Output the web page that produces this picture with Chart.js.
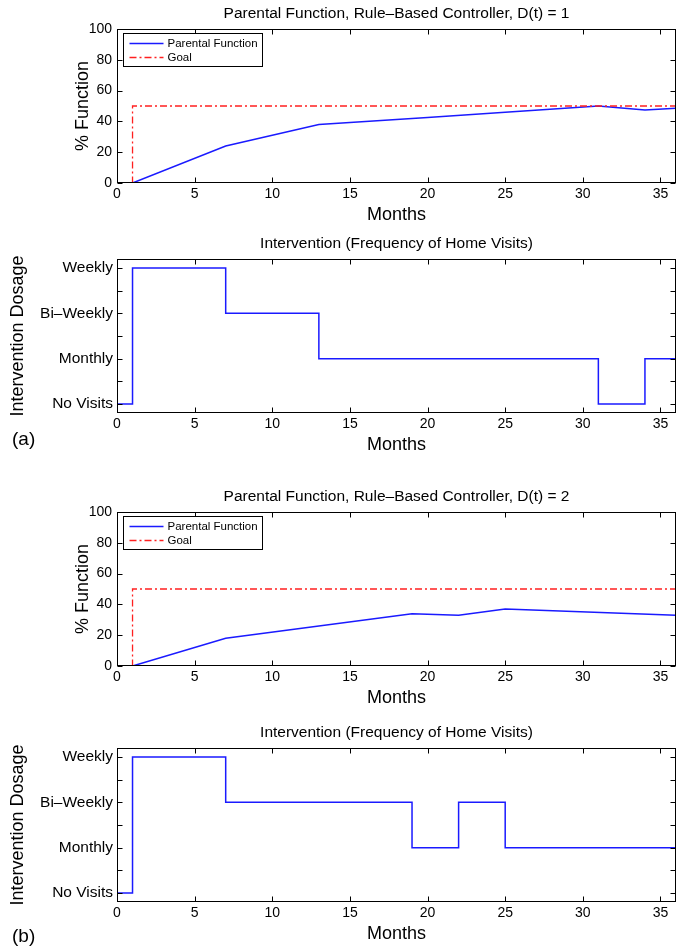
<!DOCTYPE html>
<html>
<head>
<meta charset="utf-8">
<script src="https://cdn.jsdelivr.net/npm/chart.js@4.4.0/dist/chart.umd.min.js"></script>
<style>
  body { margin: 0; background: #fff; }
  #page { position: relative; width: 687px; height: 949px; overflow: hidden; background: #fff; }
  #page canvas { position: absolute; left: 0; }
  .tag { position: absolute; left: 12px; font: 19px "Liberation Sans", Arial, sans-serif; color: #000; }
</style>
</head>
<body>
<div id="page">
  <canvas id="funcA" width="687" height="233" style="top:0px"></canvas>
  <canvas id="doseA" width="687" height="233" style="top:230px"></canvas>
  <canvas id="funcB" width="687" height="233" style="top:483px"></canvas>
  <canvas id="doseB" width="687" height="233" style="top:719px"></canvas>
  <div class="tag" style="top:428px">(a)</div>
  <div class="tag" style="top:925px">(b)</div>
</div>
<script>
// values (months 0..36)
const monthsA = [0, 1, 7, 13, 20, 25, 31, 34, 36];
const functionA = [0, 0, 24, 38, 42.5, 46, 50, 47.4, 48.5];
const doseMonthsA = [0, 1, 7, 13, 31, 34, 36];
const doseA = [0, 3, 2, 1, 0, 1, 1];

const monthsB = [0, 1, 7, 19, 22, 25, 36];
const functionB = [0, 0, 18, 34, 33, 37, 33];
const doseMonthsB = [0, 1, 7, 19, 22, 25, 36];
const doseB = [0, 3, 2, 1, 2, 1, 1];

const goalMonths = [0, 1, 36];
const goalValues = [0, 50, 50];

const doseLabels = ['No Visits', 'Monthly', 'Bi\u2013Weekly', 'Weekly'];
const doseTicks = [0, 0.5, 1, 1.5, 2, 2.5, 3];
const functionTicks = [0, 20, 40, 60, 80, 100];
const monthTicks = [0, 5, 10, 15, 20, 25, 30, 35];

const FONT = '"Liberation Sans", Arial, Helvetica, sans-serif';

function pts(xs, ys) {
    return xs.map((x, i) => ({ x: x, y: ys[i] }));
}

// matlab style box with inward ticks on all sides
const framePlugin = {
    id: 'frame',
    afterDatasetsDraw(chart) {
        const { ctx, chartArea: a, scales } = chart;
        const L = Math.round(a.left) + 0.5, R = Math.round(a.right) - 0.5;
        const T = Math.round(a.top) + 0.5, B = Math.round(a.bottom) - 0.5;
        ctx.save();
        ctx.strokeStyle = '#000';
        ctx.lineWidth = 1;
        ctx.strokeRect(L, T, R - L, B - T);
        ctx.beginPath();
        scales.x.ticks.forEach(t => {
            const px = Math.round(scales.x.getPixelForValue(t.value)) + 0.5;
            ctx.moveTo(px, B); ctx.lineTo(px, B - 5);
            ctx.moveTo(px, T); ctx.lineTo(px, T + 5);
        });
        scales.y.ticks.forEach(t => {
            const py = Math.round(scales.y.getPixelForValue(t.value)) + 0.5;
            ctx.moveTo(L, py); ctx.lineTo(L + 5, py);
            ctx.moveTo(R, py); ctx.lineTo(R - 5, py);
        });
        ctx.stroke();
        ctx.restore();
    }
};

const boxLegend = {
    id: 'boxLegend',
    afterDraw(chart, args, opts) {
        if (!opts.show) return;
        const { ctx, chartArea: a } = chart;
        const x0 = Math.round(a.left) + 6.5, y0 = Math.round(a.top) + 4.5;
        const w = 139, h = 33;
        ctx.save();
        ctx.fillStyle = '#fff';
        ctx.fillRect(x0, y0, w, h);
        ctx.strokeStyle = '#000';
        ctx.lineWidth = 1;
        ctx.strokeRect(x0, y0, w, h);
        ctx.font = '11.5px ' + FONT;
        ctx.textBaseline = 'middle';
        chart.data.datasets.forEach((ds, i) => {
            const y = y0 + 10 + i * 14;
            ctx.strokeStyle = ds.borderColor;
            ctx.lineWidth = ds.borderWidth;
            ctx.setLineDash(ds.borderDash || []);
            ctx.beginPath();
            ctx.moveTo(x0 + 6, y);
            ctx.lineTo(x0 + 40, y);
            ctx.stroke();
            ctx.setLineDash([]);
            ctx.fillStyle = '#000';
            ctx.fillText(ds.label, x0 + 44, y);
        });
        ctx.restore();
    }
};

function xAxis() {
    return {
        type: 'linear',
        min: 0,
        max: 36,
        afterBuildTicks: s => { s.ticks = monthTicks.map(v => ({ value: v })); },
        afterFit: s => { s.height = 50; },
        grid: { display: false, drawTicks: false },
        border: { display: false },
        ticks: { font: { family: FONT, size: 14 }, color: '#000', padding: 3, maxRotation: 0 },
        title: { display: true, text: 'Months', font: { family: FONT, size: 18 }, color: '#000', padding: { top: 0, bottom: 7 } }
    };
}

function makeChart(id, title, datasets, yScale, legend) {
    return new Chart(document.getElementById(id), {
        type: 'line',
        data: { datasets: datasets },
        options: {
            responsive: false,
            animation: false,
            devicePixelRatio: 1,
            layout: { padding: { top: 0, left: 0, right: 11, bottom: 0 } },
            elements: { point: { radius: 0 } },
            scales: { x: xAxis(), y: yScale },
            plugins: {
                legend: { display: false },
                tooltip: { enabled: false },
                title: {
                    display: true,
                    text: title,
                    fullSize: false,
                    color: '#000',
                    font: { family: FONT, size: 15.5, weight: 'normal' },
                    padding: { top: 4.5, bottom: 5.9 }
                },
                boxLegend: { show: legend }
            }
        },
        plugins: [framePlugin, boxLegend]
    });
}

function functionAxis() {
    return {
        type: 'linear',
        min: 0,
        max: 100,
        afterBuildTicks: s => { s.ticks = functionTicks.map(v => ({ value: v })); },
        afterFit: s => { s.width = 117; },
        grid: { display: false, drawTicks: false },
        border: { display: false },
        ticks: { font: { family: FONT, size: 14 }, color: '#000', padding: 5 },
        title: { display: true, text: '% Function', font: { family: FONT, size: 18 }, color: '#000', padding: { top: 72, bottom: 0 } }
    };
}

function doseAxis() {
    return {
        type: 'linear',
        min: -0.2,
        max: 3.2,
        afterBuildTicks: s => { s.ticks = doseTicks.map(v => ({ value: v })); },
        afterFit: s => { s.width = 117; },
        grid: { display: false, drawTicks: false },
        border: { display: false },
        ticks: {
            font: { family: FONT, size: 15.5 }, color: '#000', padding: 4,
            callback: v => Number.isInteger(v) ? doseLabels[v] : ''
        },
        title: { display: true, text: 'Intervention Dosage', font: { family: FONT, size: 18 }, color: '#000', padding: { top: 7, bottom: 0 } }
    };
}

function functionSets(months, values) {
    return [{
        label: 'Parental Function',
        data: pts(months, values),
        borderColor: '#1a1aff',
        borderWidth: 1.5,
        order: 1
    }, {
        label: 'Goal',
        data: pts(goalMonths, goalValues),
        borderColor: '#ff2020',
        borderWidth: 1.3,
        borderDash: [7, 3, 2, 3],
        stepped: true,
        order: 0
    }];
}

function doseSets(months, values) {
    return [{
        label: 'Intervention',
        data: pts(months, values),
        borderColor: '#1a1aff',
        borderWidth: 1.5,
        stepped: true
    }];
}

makeChart('funcA', 'Parental Function, Rule\u2013Based Controller, D(t) = 1', functionSets(monthsA, functionA), functionAxis(), true);
makeChart('doseA', 'Intervention (Frequency of Home Visits)', doseSets(doseMonthsA, doseA), doseAxis(), false);
makeChart('funcB', 'Parental Function, Rule\u2013Based Controller, D(t) = 2', functionSets(monthsB, functionB), functionAxis(), true);
makeChart('doseB', 'Intervention (Frequency of Home Visits)', doseSets(doseMonthsB, doseB), doseAxis(), false);
</script>
</body>
</html>
